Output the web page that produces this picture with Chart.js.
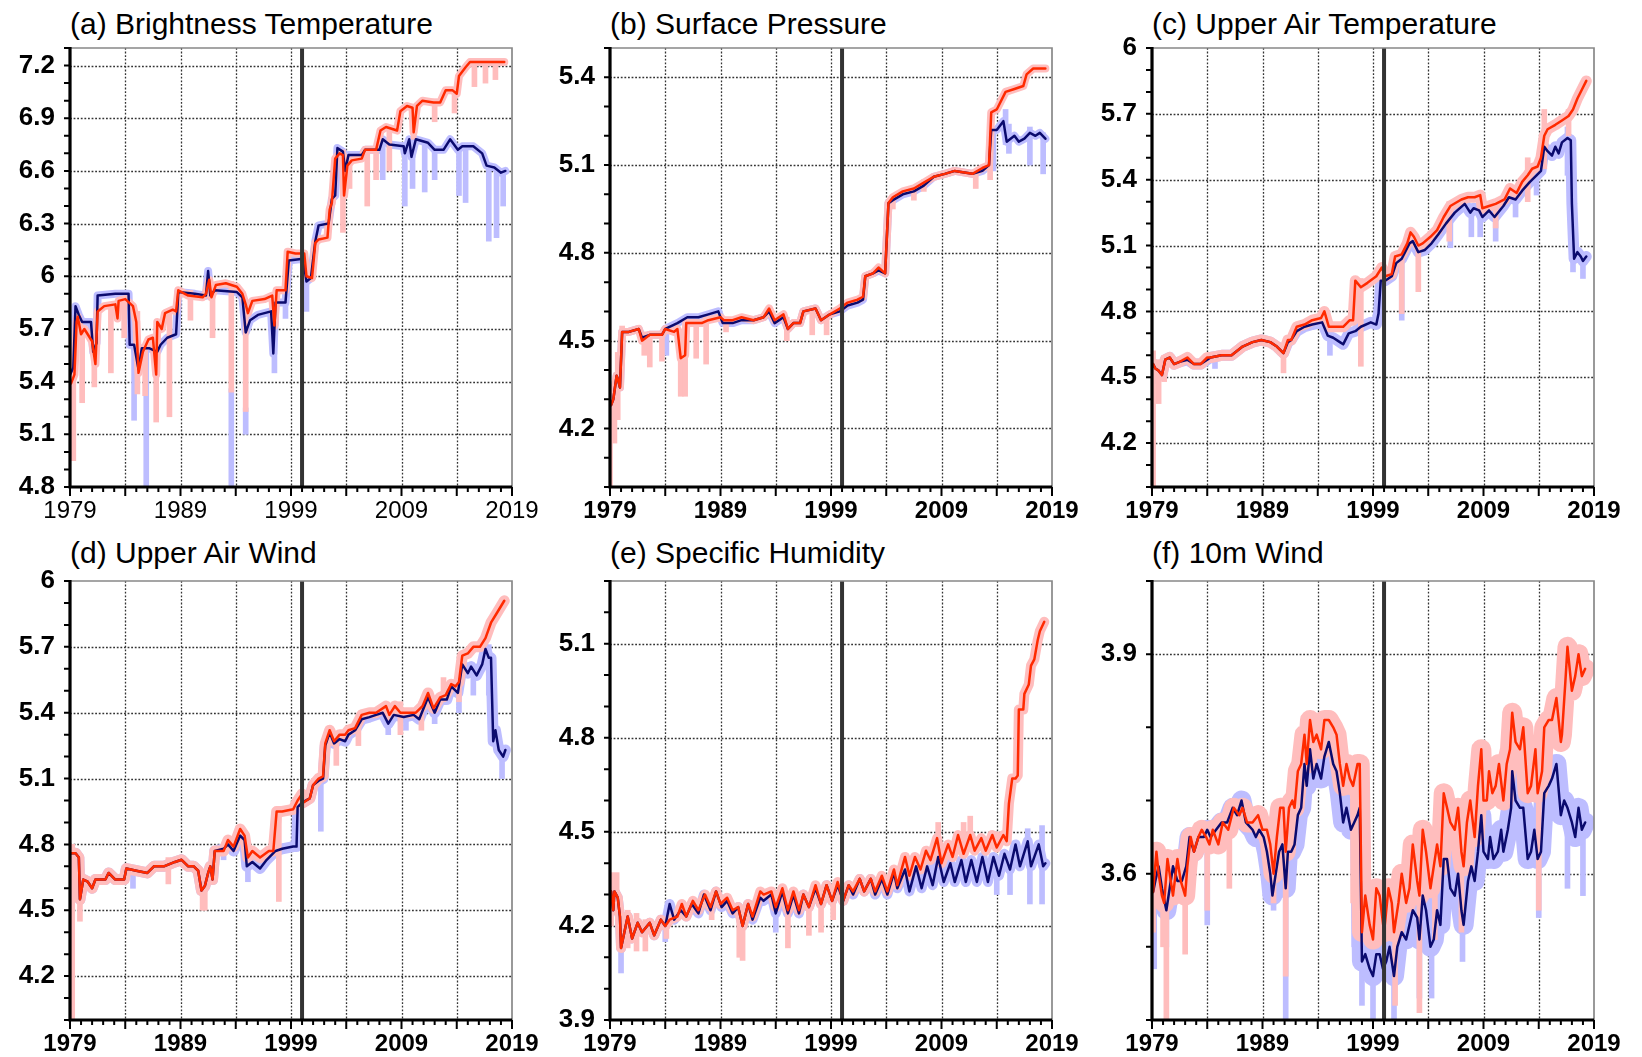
<!DOCTYPE html>
<html>
<head>
<meta charset="utf-8">
<title>Reanalysis diagnostics 1979-2019</title>
<script src="https://cdn.jsdelivr.net/npm/chart.js@4/dist/chart.umd.min.js"></script>
<style>
  html, body { margin: 0; padding: 0; background: #fff; }
  body { width: 1642px; height: 1057px; position: relative; overflow: hidden; }
  canvas { position: absolute; }
  .ttl { position: absolute; font: 30px "Liberation Sans", Helvetica, Arial, sans-serif; color: #000; line-height: 30px; white-space: nowrap; }
</style>
</head>
<body>
<div class="ttl" style="left:70px;top:9px">(a) Brightness Temperature</div>
<div class="ttl" style="left:610px;top:9px">(b) Surface Pressure</div>
<div class="ttl" style="left:1152px;top:9px">(c) Upper Air Temperature</div>
<div class="ttl" style="left:70px;top:538px">(d) Upper Air Wind</div>
<div class="ttl" style="left:610px;top:538px">(e) Specific Humidity</div>
<div class="ttl" style="left:1152px;top:538px">(f) 10m Wind</div>
<canvas id="cA"></canvas>
<canvas id="cB"></canvas>
<canvas id="cC"></canvas>
<canvas id="cD"></canvas>
<canvas id="cE"></canvas>
<canvas id="cF"></canvas>
<script>
// x axis
const xLabels = [1979, 1989, 1999, 2009, 2019];
const breakYear = 2000;

// (a) brightness temperature  [year, value]
const tbRed = [[1979.1,5.39],[1979.4,5.44],[1979.6,5.74],[1979.7,5.77],[1980.0,5.67],[1980.3,5.70],[1980.6,5.67],[1981.0,5.63],[1981.3,5.50],[1981.5,5.80],[1982.1,5.83],[1983.1,5.84],[1983.3,5.76],[1983.4,5.86],[1984.0,5.87],[1984.7,5.83],[1985.0,5.74],[1985.2,5.45],[1985.6,5.57],[1986.1,5.64],[1986.5,5.65],[1986.8,5.44],[1986.9,5.74],[1987.3,5.70],[1987.6,5.79],[1988.3,5.81],[1988.6,5.80],[1988.8,5.92],[1989.7,5.89],[1991.0,5.88],[1991.3,5.90],[1991.6,5.98],[1991.8,5.88],[1992.2,5.95],[1993.1,5.96],[1994.1,5.94],[1994.6,5.90],[1994.9,5.84],[1995.1,5.79],[1995.5,5.86],[1996.6,5.87],[1997.3,5.89],[1997.5,5.72],[1997.7,5.92],[1998.5,5.92],[1998.7,6.14],[1999.4,6.13],[2000.2,6.13],[2000.4,6.00],[2000.9,5.99],[2001.2,6.19],[2001.5,6.21],[2002.3,6.22],[2002.5,6.38],[2002.7,6.42],[2003.0,6.67],[2003.4,6.70],[2003.7,6.69],[2003.8,6.46],[2004.1,6.63],[2004.5,6.66],[2005.4,6.67],[2005.7,6.72],[2006.7,6.72],[2007.1,6.83],[2007.6,6.85],[2008.6,6.83],[2008.9,6.94],[2009.5,6.97],[2010.0,6.96],[2010.1,6.82],[2010.4,6.97],[2010.9,7.00],[2011.9,6.99],[2012.5,6.99],[2013.0,7.06],[2013.6,7.06],[2014.0,7.04],[2014.2,7.14],[2014.8,7.19],[2015.2,7.22],[2016.7,7.22],[2018.3,7.22]];
const tbBlue = [[1979.0,5.44],[1979.3,5.48],[1979.5,5.83],[1979.8,5.78],[1980.1,5.74],[1980.9,5.74],[1981.1,5.57],[1981.4,5.62],[1981.5,5.89],[1983.1,5.90],[1984.3,5.90],[1984.4,5.61],[1984.8,5.61],[1985.2,5.47],[1985.5,5.59],[1986.2,5.59],[1986.9,5.57],[1987.2,5.61],[1987.8,5.65],[1988.6,5.67],[1988.8,5.91],[1990.3,5.90],[1991.3,5.89],[1991.5,6.03],[1991.7,5.89],[1992.1,5.92],[1994.1,5.91],[1994.6,5.88],[1994.9,5.68],[1995.3,5.75],[1996.0,5.78],[1997.2,5.80],[1997.4,5.56],[1997.6,5.85],[1998.5,5.85],[1998.8,6.09],[2000.1,6.10],[2000.4,5.97],[2000.8,5.99],[2001.2,6.20],[2001.5,6.29],[2002.4,6.30],[2002.7,6.44],[2003.0,6.46],[2003.2,6.73],[2003.7,6.71],[2003.9,6.60],[2004.2,6.69],[2005.4,6.69],[2005.7,6.72],[2007.0,6.72],[2007.3,6.78],[2007.9,6.75],[2009.2,6.74],[2009.3,6.70],[2009.7,6.78],[2009.9,6.68],[2010.3,6.78],[2011.4,6.76],[2012.0,6.72],[2012.8,6.72],[2013.4,6.78],[2014.1,6.72],[2014.5,6.74],[2015.5,6.74],[2016.3,6.70],[2016.7,6.63],[2017.4,6.62],[2018.0,6.59],[2018.4,6.60]];
// spikes of the light envelopes  [year, low, high]
const tbRedSpikes = [[1979.3,4.95,5.45],[1980.1,5.28,5.70],[1981.2,5.37,5.60],[1982.7,5.45,5.84],[1983.9,5.65,5.88],[1985.1,5.33,5.80],[1985.8,5.32,5.60],[1986.8,5.17,5.66],[1988.0,5.20,5.80],[1989.9,5.75,5.92],[1991.9,5.65,5.92],[1993.6,5.34,5.97],[1994.9,5.23,5.86],[1997.6,5.72,5.92],[2003.7,6.25,6.72],[2004.3,6.50,6.66],[2005.9,6.40,6.72],[2006.7,6.55,6.74],[2007.9,6.60,6.86],[2010.1,6.78,6.98],[2012.0,6.88,7.01],[2013.8,6.93,7.07],[2015.6,7.08,7.24],[2016.6,7.10,7.24],[2017.5,7.12,7.24]];
const tbBlueSpikes = [[1984.8,5.18,5.64],[1985.9,4.80,5.60],[1993.6,4.80,5.36],[1994.9,5.10,5.25],[1997.5,5.45,5.80],[1998.5,5.76,5.86],[2000.4,5.80,5.99],[2007.3,6.55,6.79],[2009.3,6.40,6.76],[2010.0,6.50,6.70],[2011.1,6.48,6.77],[2012.0,6.55,6.73],[2014.2,6.46,6.73],[2014.8,6.42,6.75],[2016.9,6.20,6.64],[2017.6,6.22,6.62],[2018.2,6.40,6.60]];
const tbTicks = [4.8, 5.1, 5.4, 5.7, 6, 6.3, 6.6, 6.9, 7.2];

// (b) surface pressure
const spRed = [[1979.1,4.28],[1979.3,4.30],[1979.6,4.38],[1979.7,4.37],[1979.9,4.34],[1980.1,4.53],[1980.7,4.53],[1981.6,4.54],[1981.9,4.50],[1982.6,4.52],[1983.7,4.52],[1984.0,4.54],[1984.8,4.53],[1985.1,4.54],[1985.4,4.44],[1985.8,4.45],[1985.9,4.56],[1986.3,4.56],[1987.3,4.56],[1987.9,4.57],[1989.0,4.58],[1989.3,4.57],[1990.1,4.57],[1990.9,4.58],[1992.0,4.57],[1992.9,4.58],[1993.4,4.61],[1993.9,4.57],[1994.7,4.59],[1995.1,4.54],[1995.6,4.56],[1996.2,4.56],[1996.5,4.60],[1997.6,4.61],[1998.1,4.57],[1998.9,4.59],[1999.8,4.61],[2000.5,4.63],[2001.4,4.64],[2001.9,4.65],[2002.1,4.72],[2002.8,4.73],[2003.3,4.75],[2003.9,4.73],[2004.2,4.97],[2004.6,4.99],[2005.5,5.01],[2006.5,5.02],[2007.4,5.04],[2008.3,5.06],[2009.3,5.07],[2010.2,5.08],[2011.8,5.07],[2012.7,5.09],[2013.3,5.10],[2013.5,5.28],[2014.0,5.29],[2014.8,5.35],[2015.6,5.36],[2016.4,5.37],[2016.7,5.41],[2017.3,5.43],[2018.4,5.43]];
const spBlue = [[1979.1,4.28],[1979.3,4.30],[1979.6,4.38],[1979.7,4.37],[1979.9,4.34],[1980.1,4.53],[1980.7,4.53],[1981.6,4.54],[1981.9,4.51],[1982.6,4.52],[1983.7,4.52],[1984.0,4.54],[1985.1,4.56],[1986.0,4.58],[1987.0,4.58],[1987.9,4.59],[1988.8,4.60],[1989.2,4.56],[1990.1,4.56],[1990.9,4.57],[1992.0,4.57],[1992.9,4.58],[1993.4,4.60],[1993.9,4.56],[1994.7,4.58],[1995.1,4.54],[1995.6,4.56],[1996.2,4.56],[1996.5,4.60],[1997.6,4.61],[1998.1,4.57],[1998.9,4.59],[1999.8,4.60],[2000.5,4.62],[2001.4,4.63],[2001.9,4.64],[2002.1,4.72],[2002.8,4.73],[2003.3,4.74],[2003.9,4.73],[2004.2,4.97],[2004.6,4.98],[2005.5,5.00],[2006.5,5.01],[2007.4,5.03],[2008.3,5.06],[2009.3,5.07],[2010.2,5.08],[2011.8,5.07],[2012.7,5.08],[2013.3,5.10],[2013.5,5.22],[2014.0,5.22],[2014.6,5.25],[2014.9,5.18],[2015.6,5.20],[2016.0,5.18],[2016.5,5.19],[2017.0,5.21],[2017.5,5.20],[2017.9,5.21],[2018.4,5.19]];
const spRedSpikes = [[1979.0,4.00,4.30],[1979.4,4.15,4.35],[1979.7,4.23,4.46],[1980.1,4.48,4.55],[1982.1,4.45,4.53],[1982.6,4.41,4.53],[1983.7,4.43,4.53],[1985.4,4.31,4.54],[1985.8,4.31,4.56],[1986.8,4.44,4.57],[1987.7,4.42,4.58],[1989.5,4.53,4.58],[1995.0,4.50,4.58],[1997.3,4.52,4.61],[1998.6,4.52,4.59],[2004.6,4.95,4.99],[2006.5,4.98,5.03],[2007.4,5.01,5.05],[2012.1,5.02,5.08],[2013.4,5.05,5.12]];
const spBlueSpikes = [[1984.1,4.45,4.54],[2013.7,5.08,5.23],[2014.8,5.17,5.29],[2015.1,5.14,5.24],[2017.0,5.10,5.23],[2018.2,5.07,5.21]];
const spTicks = [4.2, 4.5, 4.8, 5.1, 5.4];

// (c) upper air temperature
const taRed = [[1979.1,4.56],[1979.3,4.54],[1979.6,4.53],[1979.9,4.51],[1980.2,4.58],[1980.6,4.59],[1981.0,4.56],[1981.5,4.57],[1982.2,4.59],[1982.8,4.56],[1983.4,4.56],[1984.0,4.59],[1984.3,4.59],[1985.3,4.60],[1986.2,4.60],[1987.2,4.64],[1988.1,4.66],[1988.9,4.67],[1989.7,4.66],[1990.3,4.64],[1990.9,4.61],[1991.3,4.67],[1991.6,4.67],[1992.1,4.73],[1992.8,4.74],[1993.5,4.76],[1994.3,4.77],[1994.6,4.80],[1995.0,4.73],[1995.7,4.73],[1996.3,4.73],[1996.9,4.76],[1997.2,4.76],[1997.4,4.94],[1997.9,4.91],[1998.5,4.93],[1999.3,4.96],[1999.8,5.00],[2000.1,4.96],[2000.7,4.97],[2001.0,5.05],[2001.6,5.06],[2002.1,5.11],[2002.4,5.16],[2002.7,5.14],[2003.1,5.10],[2003.5,5.11],[2004.2,5.14],[2004.8,5.17],[2005.4,5.23],[2006.0,5.28],[2007.0,5.31],[2007.6,5.32],[2008.2,5.32],[2008.7,5.33],[2008.9,5.27],[2009.5,5.28],[2010.1,5.29],[2010.9,5.31],[2011.4,5.36],[2011.7,5.35],[2012.0,5.34],[2012.5,5.39],[2013.0,5.42],[2013.4,5.45],[2013.9,5.46],[2014.2,5.50],[2014.5,5.60],[2014.8,5.63],[2015.5,5.65],[2016.1,5.67],[2016.7,5.69],[2017.1,5.72],[2017.5,5.77],[2018.0,5.82],[2018.3,5.85]];
const taBlue = [[1979.1,4.56],[1979.3,4.54],[1979.6,4.53],[1979.9,4.51],[1980.2,4.58],[1980.6,4.59],[1981.0,4.56],[1981.5,4.57],[1982.2,4.58],[1982.8,4.56],[1983.4,4.56],[1984.0,4.58],[1984.3,4.59],[1985.3,4.60],[1986.2,4.60],[1987.2,4.64],[1988.1,4.66],[1988.9,4.67],[1989.7,4.66],[1990.3,4.64],[1990.9,4.61],[1991.3,4.66],[1991.6,4.67],[1992.1,4.71],[1992.8,4.73],[1993.5,4.74],[1994.4,4.75],[1994.9,4.69],[1995.4,4.68],[1996.0,4.66],[1996.3,4.65],[1996.8,4.70],[1997.4,4.71],[1997.9,4.73],[1998.8,4.75],[1999.3,4.74],[1999.5,4.79],[1999.7,4.94],[2000.1,4.94],[2000.7,4.96],[2001.1,5.02],[2001.6,5.04],[2002.3,5.11],[2002.6,5.12],[2003.1,5.07],[2003.7,5.08],[2004.3,5.11],[2004.9,5.15],[2005.6,5.20],[2006.4,5.25],[2007.3,5.29],[2007.8,5.25],[2008.1,5.27],[2008.6,5.26],[2008.9,5.23],[2009.5,5.26],[2010.0,5.23],[2010.8,5.28],[2011.3,5.32],[2011.9,5.31],[2012.5,5.35],[2013.2,5.39],[2013.8,5.42],[2014.2,5.44],[2014.5,5.55],[2014.8,5.53],[2015.2,5.51],[2015.5,5.55],[2015.8,5.52],[2016.1,5.57],[2016.6,5.59],[2016.9,5.58],[2017.0,5.29],[2017.2,5.04],[2017.5,5.07],[2017.8,5.05],[2018.0,5.03],[2018.3,5.05]];
const taRedSpikes = [[1979.1,4.00,4.62],[1979.6,4.38,4.58],[1980.1,4.48,4.60],[1990.9,4.52,4.64],[1997.9,4.55,4.95],[2001.6,4.79,5.08],[2003.1,4.89,5.12],[2005.9,5.12,5.30],[2010.1,5.18,5.31],[2013.0,5.30,5.50],[2014.5,5.45,5.72],[2016.7,5.60,5.72]];
const taBlueSpikes = [[1979.2,4.47,4.57],[1984.7,4.54,4.60],[1995.1,4.60,4.71],[2001.6,4.76,5.04],[2006.0,5.09,5.27],[2007.9,5.14,5.27],[2008.7,5.14,5.27],[2010.1,5.12,5.25],[2011.9,5.23,5.32],[2013.8,5.33,5.44],[2016.6,5.42,5.64],[2016.9,5.36,5.60],[2017.1,4.98,5.10],[2018.0,4.95,5.06]];
const taTicks = [4.2, 4.5, 4.8, 5.1, 5.4, 5.7, 6];

// (d) upper air wind
const uvRed = [[1979.1,4.76],[1979.5,4.76],[1979.8,4.74],[1979.9,4.55],[1980.2,4.64],[1980.6,4.63],[1981.0,4.60],[1981.3,4.64],[1982.2,4.64],[1982.5,4.67],[1983.1,4.64],[1983.9,4.64],[1984.1,4.69],[1985.0,4.68],[1986.0,4.67],[1986.6,4.70],[1987.5,4.70],[1988.5,4.72],[1989.1,4.73],[1989.7,4.70],[1990.2,4.70],[1990.6,4.68],[1990.9,4.59],[1991.2,4.61],[1991.5,4.67],[1991.7,4.70],[1991.9,4.64],[1992.1,4.77],[1992.9,4.77],[1993.3,4.82],[1993.8,4.79],[1994.4,4.87],[1994.8,4.84],[1995.1,4.74],[1995.5,4.77],[1996.2,4.74],[1997.0,4.77],[1997.4,4.77],[1997.7,4.95],[1998.2,4.95],[1999.2,4.96],[1999.6,5.00],[2000.0,5.03],[2000.1,4.99],[2000.7,5.01],[2001.0,5.07],[2001.5,5.10],[2001.9,5.11],[2002.1,5.26],[2002.5,5.32],[2002.9,5.27],[2003.4,5.30],[2003.9,5.30],[2004.2,5.32],[2004.8,5.33],[2005.4,5.39],[2006.1,5.40],[2006.7,5.40],[2007.6,5.43],[2007.9,5.39],[2008.4,5.43],[2008.9,5.40],[2009.7,5.40],[2010.3,5.40],[2010.9,5.43],[2011.4,5.49],[2011.9,5.42],[2012.5,5.47],[2013.0,5.48],[2013.5,5.53],[2013.9,5.52],[2014.2,5.54],[2014.5,5.66],[2015.0,5.67],[2015.5,5.70],[2016.1,5.70],[2016.6,5.74],[2017.1,5.81],[2017.7,5.86],[2018.3,5.91]];
const uvBlue = [[1979.1,4.76],[1979.5,4.76],[1979.8,4.74],[1979.9,4.55],[1980.2,4.64],[1980.6,4.63],[1981.0,4.60],[1981.3,4.64],[1982.2,4.64],[1982.5,4.67],[1983.1,4.64],[1983.9,4.64],[1984.1,4.69],[1985.0,4.68],[1986.0,4.67],[1986.6,4.70],[1987.5,4.70],[1988.5,4.72],[1989.1,4.73],[1989.7,4.70],[1990.2,4.70],[1990.6,4.68],[1990.9,4.59],[1991.2,4.61],[1991.5,4.67],[1991.7,4.70],[1991.9,4.64],[1992.1,4.77],[1992.9,4.78],[1993.3,4.80],[1993.8,4.77],[1994.4,4.84],[1994.8,4.82],[1995.0,4.70],[1995.5,4.72],[1996.2,4.69],[1996.8,4.73],[1997.6,4.77],[1998.2,4.78],[1999.2,4.79],[1999.5,4.79],[1999.6,4.97],[2000.0,4.99],[2000.7,5.01],[2001.0,5.07],[2001.5,5.09],[2001.9,5.10],[2002.1,5.25],[2002.5,5.31],[2002.9,5.26],[2003.4,5.28],[2003.9,5.27],[2004.2,5.30],[2004.8,5.32],[2005.4,5.37],[2006.1,5.38],[2006.7,5.39],[2007.3,5.40],[2007.8,5.35],[2008.3,5.39],[2009.2,5.38],[2010.1,5.39],[2010.6,5.37],[2011.4,5.47],[2012.0,5.40],[2012.5,5.46],[2013.1,5.46],[2013.5,5.52],[2014.1,5.49],[2014.5,5.62],[2015.0,5.58],[2015.3,5.61],[2015.8,5.57],[2016.3,5.62],[2016.6,5.69],[2016.9,5.65],[2017.1,5.65],[2017.3,5.27],[2017.5,5.32],[2017.8,5.23],[2018.2,5.20],[2018.4,5.23]];
const uvRedSpikes = [[1979.2,4.00,4.80],[1979.9,4.45,4.60],[1987.9,4.62,4.74],[1991.0,4.50,4.64],[1991.2,4.50,4.64],[1997.9,4.54,4.97],[2002.1,5.10,5.28],[2003.1,5.16,5.30],[2005.1,5.25,5.38],[2008.9,5.30,5.45],[2010.8,5.32,5.45],[2012.8,5.45,5.56],[2014.2,5.45,5.57]];
const uvBlueSpikes = [[1984.7,4.60,4.70],[1992.9,4.73,4.80],[1995.1,4.63,4.72],[2001.7,4.86,5.10],[2007.8,5.30,5.38],[2009.4,5.32,5.40],[2012.0,5.35,5.42],[2014.2,5.40,5.50],[2015.5,5.48,5.62],[2016.9,5.48,5.71],[2018.1,5.10,5.25]];
const uvTicks = [4.2, 4.5, 4.8, 5.1, 5.4, 5.7, 6];

// (e) specific humidity
const qRed = [[1979.1,4.31],[1979.3,4.25],[1979.4,4.31],[1979.7,4.29],[1979.9,4.23],[1980.0,4.13],[1980.3,4.18],[1980.6,4.23],[1981.0,4.16],[1981.5,4.21],[1981.9,4.18],[1982.6,4.21],[1983.0,4.17],[1983.6,4.22],[1984.0,4.20],[1984.4,4.22],[1985.1,4.23],[1985.5,4.27],[1985.9,4.23],[1986.5,4.28],[1987.0,4.25],[1987.6,4.30],[1988.1,4.26],[1988.6,4.31],[1989.0,4.27],[1989.6,4.29],[1990.1,4.25],[1990.6,4.26],[1991.0,4.20],[1991.5,4.27],[1991.9,4.23],[1992.6,4.31],[1992.9,4.30],[1993.6,4.31],[1994.0,4.26],[1994.6,4.32],[1995.1,4.25],[1995.6,4.31],[1996.1,4.25],[1996.5,4.30],[1997.0,4.26],[1997.6,4.33],[1998.1,4.27],[1998.6,4.33],[1999.1,4.28],[1999.6,4.34],[2000.1,4.28],[2000.6,4.33],[2001.0,4.31],[2001.6,4.35],[2002.0,4.31],[2002.6,4.35],[2003.0,4.31],[2003.6,4.36],[2004.1,4.31],[2004.7,4.38],[2005.0,4.33],[2005.7,4.42],[2006.1,4.36],[2006.6,4.42],[2007.1,4.38],[2007.6,4.44],[2008.0,4.41],[2008.6,4.48],[2009.0,4.40],[2009.6,4.46],[2010.0,4.42],[2010.5,4.49],[2011.0,4.43],[2011.6,4.49],[2012.0,4.44],[2012.6,4.48],[2013.0,4.44],[2013.6,4.49],[2014.0,4.45],[2014.6,4.49],[2014.9,4.47],[2015.1,4.59],[2015.4,4.67],[2015.7,4.67],[2015.9,4.68],[2016.0,4.89],[2016.4,4.89],[2016.5,4.94],[2016.9,4.97],[2017.1,5.03],[2017.4,5.05],[2017.7,5.11],[2017.9,5.14],[2018.3,5.17]];
const qBlue = [[1979.1,4.31],[1979.3,4.25],[1979.4,4.31],[1979.7,4.29],[1979.9,4.23],[1980.0,4.13],[1980.3,4.18],[1980.6,4.23],[1981.0,4.16],[1981.5,4.21],[1981.9,4.18],[1982.6,4.21],[1983.0,4.17],[1983.6,4.22],[1984.0,4.20],[1984.4,4.27],[1984.8,4.22],[1985.4,4.25],[1985.9,4.23],[1986.4,4.27],[1987.0,4.24],[1987.5,4.30],[1988.1,4.25],[1988.6,4.31],[1989.1,4.26],[1989.6,4.28],[1990.1,4.24],[1990.6,4.26],[1991.0,4.20],[1991.5,4.27],[1991.9,4.22],[1992.6,4.29],[1992.9,4.28],[1993.6,4.30],[1994.0,4.24],[1994.6,4.31],[1995.1,4.24],[1995.6,4.30],[1996.1,4.24],[1996.5,4.30],[1997.0,4.26],[1997.6,4.32],[1998.1,4.27],[1998.6,4.33],[1999.1,4.28],[1999.6,4.33],[2000.1,4.28],[2000.6,4.33],[2001.0,4.30],[2001.6,4.35],[2002.0,4.31],[2002.6,4.35],[2003.0,4.30],[2003.6,4.35],[2004.1,4.30],[2004.7,4.37],[2005.0,4.32],[2005.7,4.38],[2006.1,4.31],[2006.7,4.39],[2007.2,4.32],[2007.7,4.39],[2008.2,4.33],[2008.7,4.42],[2009.2,4.34],[2009.8,4.40],[2010.2,4.34],[2010.8,4.41],[2011.2,4.34],[2011.7,4.41],[2012.2,4.34],[2012.7,4.42],[2013.2,4.34],[2013.7,4.42],[2014.2,4.36],[2014.7,4.43],[2015.2,4.38],[2015.7,4.46],[2016.1,4.39],[2016.8,4.47],[2017.1,4.39],[2017.8,4.46],[2018.2,4.39],[2018.4,4.40]];
const qRedSpikes = [[1979.1,4.20,4.37],[1979.6,4.25,4.37],[1980.6,4.13,4.25],[1981.4,4.12,4.24],[1982.2,4.12,4.22],[1984.1,4.16,4.22],[1988.2,4.22,4.28],[1990.7,4.10,4.27],[1991.0,4.09,4.22],[1995.1,4.13,4.27],[1997.0,4.17,4.28],[1998.1,4.18,4.29],[1999.2,4.22,4.30],[2008.7,4.42,4.53],[2011.0,4.42,4.53],[2011.6,4.46,4.55],[2014.0,4.44,4.50]];
const qBlueSpikes = [[1980.0,4.05,4.15],[1984.0,4.15,4.22],[1994.0,4.18,4.26],[2014.0,4.30,4.37],[2015.2,4.30,4.40],[2016.8,4.44,4.51],[2017.0,4.27,4.41],[2018.1,4.27,4.52]];
const qTicks = [3.9, 4.2, 4.5, 4.8, 5.1];

// (f) 10m wind
const wRed = [[1979.1,3.575],[1979.4,3.63],[1979.6,3.60],[1979.9,3.57],[1980.1,3.56],[1980.4,3.62],[1980.7,3.59],[1980.9,3.57],[1981.3,3.62],[1981.6,3.59],[1982.0,3.57],[1982.2,3.61],[1982.5,3.65],[1982.8,3.63],[1983.2,3.65],[1983.5,3.66],[1983.9,3.65],[1984.2,3.64],[1984.5,3.66],[1985.0,3.64],[1985.4,3.67],[1985.9,3.66],[1986.4,3.69],[1986.9,3.68],[1987.2,3.69],[1987.6,3.67],[1988.1,3.67],[1988.6,3.68],[1989.0,3.66],[1989.4,3.66],[1989.7,3.64],[1990.0,3.60],[1990.3,3.65],[1990.6,3.69],[1990.9,3.69],[1991.1,3.63],[1991.4,3.69],[1991.7,3.70],[1991.9,3.69],[1992.2,3.74],[1992.5,3.75],[1992.8,3.79],[1993.0,3.75],[1993.3,3.81],[1993.6,3.78],[1993.9,3.79],[1994.3,3.77],[1994.6,3.81],[1995.0,3.81],[1995.4,3.80],[1995.7,3.79],[1996.0,3.75],[1996.3,3.72],[1996.6,3.75],[1996.9,3.73],[1997.2,3.72],[1997.6,3.75],[1997.8,3.75],[1998.0,3.52],[1998.3,3.57],[1998.7,3.53],[1999.0,3.51],[1999.3,3.58],[1999.6,3.57],[2000.0,3.52],[2000.4,3.58],[2000.7,3.56],[2000.9,3.52],[2001.3,3.56],[2001.6,3.60],[2002.0,3.56],[2002.3,3.58],[2002.6,3.64],[2003.0,3.59],[2003.2,3.57],[2003.5,3.66],[2003.8,3.63],[2004.2,3.58],[2004.5,3.61],[2004.8,3.64],[2005.1,3.61],[2005.4,3.71],[2005.7,3.69],[2006.0,3.67],[2006.4,3.66],[2006.7,3.69],[2007.0,3.63],[2007.2,3.61],[2007.5,3.67],[2007.8,3.70],[2008.2,3.65],[2008.5,3.72],[2008.8,3.77],[2009.0,3.70],[2009.3,3.70],[2009.5,3.74],[2009.8,3.71],[2010.1,3.72],[2010.4,3.75],[2010.8,3.70],[2011.1,3.75],[2011.4,3.77],[2011.6,3.82],[2011.9,3.78],[2012.3,3.77],[2012.6,3.80],[2013.0,3.71],[2013.3,3.72],[2013.7,3.77],[2013.9,3.71],[2014.3,3.74],[2014.5,3.80],[2014.9,3.81],[2015.2,3.81],[2015.6,3.84],[2016.0,3.78],[2016.1,3.79],[2016.4,3.86],[2016.6,3.91],[2017.0,3.85],[2017.3,3.87],[2017.6,3.90],[2017.9,3.87],[2018.2,3.88]];
const wBlue = [[1979.1,3.575],[1979.3,3.59],[1979.6,3.61],[1979.9,3.58],[1980.3,3.55],[1980.6,3.58],[1980.9,3.61],[1981.3,3.59],[1981.7,3.59],[1982.1,3.61],[1982.4,3.65],[1982.8,3.63],[1983.2,3.65],[1983.7,3.65],[1984.0,3.66],[1984.3,3.65],[1984.8,3.66],[1985.3,3.67],[1985.8,3.67],[1986.3,3.69],[1986.7,3.68],[1987.1,3.70],[1987.5,3.67],[1988.1,3.66],[1988.4,3.65],[1988.7,3.66],[1989.1,3.65],[1989.4,3.63],[1989.7,3.60],[1989.9,3.57],[1990.2,3.60],[1990.5,3.63],[1990.8,3.64],[1991.1,3.58],[1991.3,3.63],[1991.6,3.63],[1991.9,3.64],[1992.2,3.68],[1992.5,3.69],[1992.8,3.75],[1993.0,3.72],[1993.3,3.77],[1993.6,3.73],[1993.9,3.75],[1994.3,3.73],[1994.6,3.76],[1995.0,3.78],[1995.4,3.75],[1995.7,3.74],[1996.0,3.71],[1996.3,3.67],[1996.6,3.69],[1997.0,3.66],[1997.3,3.67],[1997.6,3.68],[1997.8,3.69],[1998.0,3.48],[1998.3,3.49],[1998.7,3.47],[1999.0,3.46],[1999.3,3.49],[1999.6,3.49],[1999.9,3.47],[2000.2,3.48],[2000.5,3.50],[2000.9,3.46],[2001.2,3.50],[2001.6,3.52],[2002.0,3.51],[2002.3,3.53],[2002.6,3.55],[2003.0,3.54],[2003.2,3.51],[2003.5,3.57],[2003.8,3.55],[2004.2,3.50],[2004.5,3.51],[2004.8,3.55],[2005.1,3.53],[2005.4,3.62],[2005.7,3.62],[2006.0,3.58],[2006.4,3.57],[2006.7,3.60],[2007.0,3.55],[2007.2,3.53],[2007.6,3.59],[2007.9,3.61],[2008.2,3.59],[2008.5,3.63],[2008.8,3.68],[2009.0,3.63],[2009.4,3.62],[2009.6,3.65],[2009.9,3.62],[2010.3,3.63],[2010.6,3.66],[2010.8,3.63],[2011.2,3.66],[2011.5,3.69],[2011.6,3.74],[2011.9,3.70],[2012.3,3.69],[2012.6,3.69],[2013.0,3.62],[2013.3,3.63],[2013.6,3.66],[2013.9,3.62],[2014.2,3.63],[2014.5,3.71],[2014.9,3.72],[2015.2,3.73],[2015.6,3.75],[2016.0,3.68],[2016.3,3.70],[2016.6,3.69],[2017.0,3.67],[2017.3,3.65],[2017.6,3.69],[2017.9,3.66],[2018.2,3.67]];
const wRedSpikes = [[1979.1,3.52,3.60],[1980.0,3.50,3.62],[1980.3,3.40,3.62],[1982.0,3.49,3.60],[1984.0,3.55,3.66],[1986.0,3.58,3.67],[1990.0,3.56,3.62],[1991.1,3.46,3.69],[1997.2,3.56,3.74],[2001.0,3.42,3.56],[2003.2,3.41,3.58],[2004.6,3.51,3.62],[2007.0,3.52,3.63],[2014.0,3.55,3.72]];
const wBlueSpikes = [[1979.2,3.47,3.58],[1980.3,3.50,3.56],[1984.0,3.53,3.65],[1990.0,3.55,3.60],[1991.1,3.40,3.58],[1997.3,3.50,3.58],[1998.0,3.42,3.50],[1999.0,3.40,3.47],[2000.9,3.40,3.47],[2003.2,3.43,3.51],[2004.3,3.43,3.50],[2007.1,3.48,3.54],[2014.0,3.54,3.62],[2016.6,3.58,3.69],[2018.0,3.57,3.67]];
const wTicks = [3.6, 3.9];

const RED = '#ff2a00';
const NAVY = '#0b0b6e';
const PINK = '#ffbdbd';
const LILAC = '#bdbdff';
const FONT = '"Liberation Sans", Helvetica, Arial, sans-serif';

// dotted grid under the data, frame and ticks over it
const axisFrame = {
  id: 'axisFrame',
  beforeDatasetsDraw(chart, args, opts) {
    const { ctx, chartArea: a, scales: { x, y } } = chart;
    ctx.save();
    ctx.strokeStyle = '#333';
    ctx.lineWidth = 1.3;
    ctx.setLineDash([1.8, 1.8]);
    ctx.beginPath();
    for (let yr = 1984; yr < 2019; yr += 5) {
      const px = Math.round(x.getPixelForValue(yr)) + 0.5;
      ctx.moveTo(px, a.top);
      ctx.lineTo(px, a.bottom);
    }
    opts.yTicks.forEach(v => {
      const py = Math.round(y.getPixelForValue(v)) + 0.5;
      if (py > a.top + 3 && py < a.bottom - 3) {
        ctx.moveTo(a.left, py);
        ctx.lineTo(a.right, py);
      }
    });
    ctx.stroke();
    ctx.restore();
  },
  afterDatasetsDraw(chart) {
    const { ctx, chartArea: a, scales: { x, y } } = chart;
    ctx.save();
    ctx.strokeStyle = '#888';
    ctx.lineWidth = 1.7;
    ctx.beginPath();
    ctx.moveTo(a.left, a.top);
    ctx.lineTo(a.right, a.top);
    ctx.lineTo(a.right, a.bottom);
    ctx.stroke();

    ctx.strokeStyle = '#000';
    ctx.lineWidth = 2;
    ctx.beginPath();
    for (let yr = 1979; yr <= 2019; yr++) {
      const px = x.getPixelForValue(yr);
      const len = (yr - 1979) % 5 === 0 ? 9 : 5;
      ctx.moveTo(px, a.bottom);
      ctx.lineTo(px, a.bottom + len);
    }
    for (let k = Math.round(y.min * 10); k <= Math.round(y.max * 10); k++) {
      const py = y.getPixelForValue(k / 10);
      ctx.moveTo(a.left, py);
      ctx.lineTo(a.left - 6, py);
    }
    ctx.stroke();

    ctx.lineWidth = 3.2;
    ctx.beginPath();
    ctx.moveTo(a.left, a.top - 1);
    ctx.lineTo(a.left, a.bottom);
    ctx.lineTo(a.right, a.bottom);
    ctx.stroke();
    ctx.restore();
  }
};

function makePanel(id, rect, p) {
  const canvas = document.getElementById(id);
  const W = rect.R - rect.L + 66 + 45;
  const H = rect.B - rect.T + 47 + 45;
  canvas.width = W;
  canvas.height = H;
  canvas.style.left = (rect.L - 66) + 'px';
  canvas.style.top = (rect.T - 47) + 'px';

  const pts = arr => arr.map(d => ({ x: d[0], y: d[1] }));
  const bars = arr => arr.map(d => ({ x: d[0], y: [d[1], d[2]] }));

  new Chart(canvas, {
    type: 'line',
    data: {
      datasets: [
        { data: [{ x: breakYear, y: p.yMin }, { x: breakYear, y: p.yMax }], borderColor: '#333', borderWidth: 4 },
        { data: pts(p.red), borderColor: RED, borderWidth: 2.5 },
        { data: pts(p.blue), borderColor: NAVY, borderWidth: 2.5 },
        { data: pts(p.red), borderColor: PINK, borderWidth: p.band },
        { type: 'bar', data: bars(p.redSpikes), backgroundColor: PINK, barThickness: 5, grouped: false, clip: 0 },
        { data: pts(p.blue), borderColor: LILAC, borderWidth: p.band },
        { type: 'bar', data: bars(p.blueSpikes), backgroundColor: LILAC, barThickness: 5, grouped: false, clip: 0 }
      ]
    },
    options: {
      responsive: false,
      animation: false,
      devicePixelRatio: 1,
      layout: { padding: { left: 0, top: 47, right: 45, bottom: 0 } },
      datasets: { line: { clip: 0 } },
      elements: {
        point: { radius: 0 },
        line: { tension: 0, fill: false, borderJoinStyle: 'round', borderCapStyle: 'round' }
      },
      plugins: {
        legend: { display: false },
        tooltip: { enabled: false },
        axisFrame: { yTicks: p.yTicks }
      },
      scales: {
        x: {
          type: 'linear', min: 1979, max: 2019, offset: false,
          afterBuildTicks: s => { s.ticks = xLabels.map(v => ({ value: v })); },
          afterFit: s => { s.height = 45; },
          grid: { display: false, drawTicks: false },
          border: { display: false },
          ticks: {
            autoSkip: false, maxRotation: 0, padding: 10, color: '#000',
            font: { family: FONT, size: 24, weight: p.xBold ? 'bold' : 'normal' },
            callback: v => String(v)
          }
        },
        y: {
          type: 'linear', min: p.yMin, max: p.yMax,
          afterBuildTicks: s => { s.ticks = p.yTicks.map(v => ({ value: v })); },
          afterFit: s => { s.width = 66; },
          grid: { display: false, drawTicks: false },
          border: { display: false },
          ticks: {
            autoSkip: false, padding: 15, color: '#000',
            font: { family: FONT, size: 26, weight: 'bold' },
            callback: v => String(Number(v.toFixed(1)))
          }
        }
      }
    },
    plugins: [axisFrame]
  });
}

makePanel('cA', { L: 70, R: 512, T: 48, B: 487 }, { red: tbRed, blue: tbBlue, redSpikes: tbRedSpikes, blueSpikes: tbBlueSpikes, yTicks: tbTicks, yMin: 4.8, yMax: 7.3, band: 8, xBold: false });
makePanel('cB', { L: 610, R: 1052, T: 48, B: 487 }, { red: spRed, blue: spBlue, redSpikes: spRedSpikes, blueSpikes: spBlueSpikes, yTicks: spTicks, yMin: 4.0, yMax: 5.5, band: 8, xBold: true });
makePanel('cC', { L: 1152, R: 1594, T: 48, B: 487 }, { red: taRed, blue: taBlue, redSpikes: taRedSpikes, blueSpikes: taBlueSpikes, yTicks: taTicks, yMin: 4.0, yMax: 6.0, band: 11, xBold: true });
makePanel('cD', { L: 70, R: 512, T: 581, B: 1020 }, { red: uvRed, blue: uvBlue, redSpikes: uvRedSpikes, blueSpikes: uvBlueSpikes, yTicks: uvTicks, yMin: 4.0, yMax: 6.0, band: 11, xBold: true });
makePanel('cE', { L: 610, R: 1052, T: 581, B: 1020 }, { red: qRed, blue: qBlue, redSpikes: qRedSpikes, blueSpikes: qBlueSpikes, yTicks: qTicks, yMin: 3.9, yMax: 5.3, band: 10, xBold: true });
makePanel('cF', { L: 1152, R: 1594, T: 581, B: 1020 }, { red: wRed, blue: wBlue, redSpikes: wRedSpikes, blueSpikes: wBlueSpikes, yTicks: wTicks, yMin: 3.4, yMax: 4.0, band: 20, xBold: true });
</script>
</body>
</html>
